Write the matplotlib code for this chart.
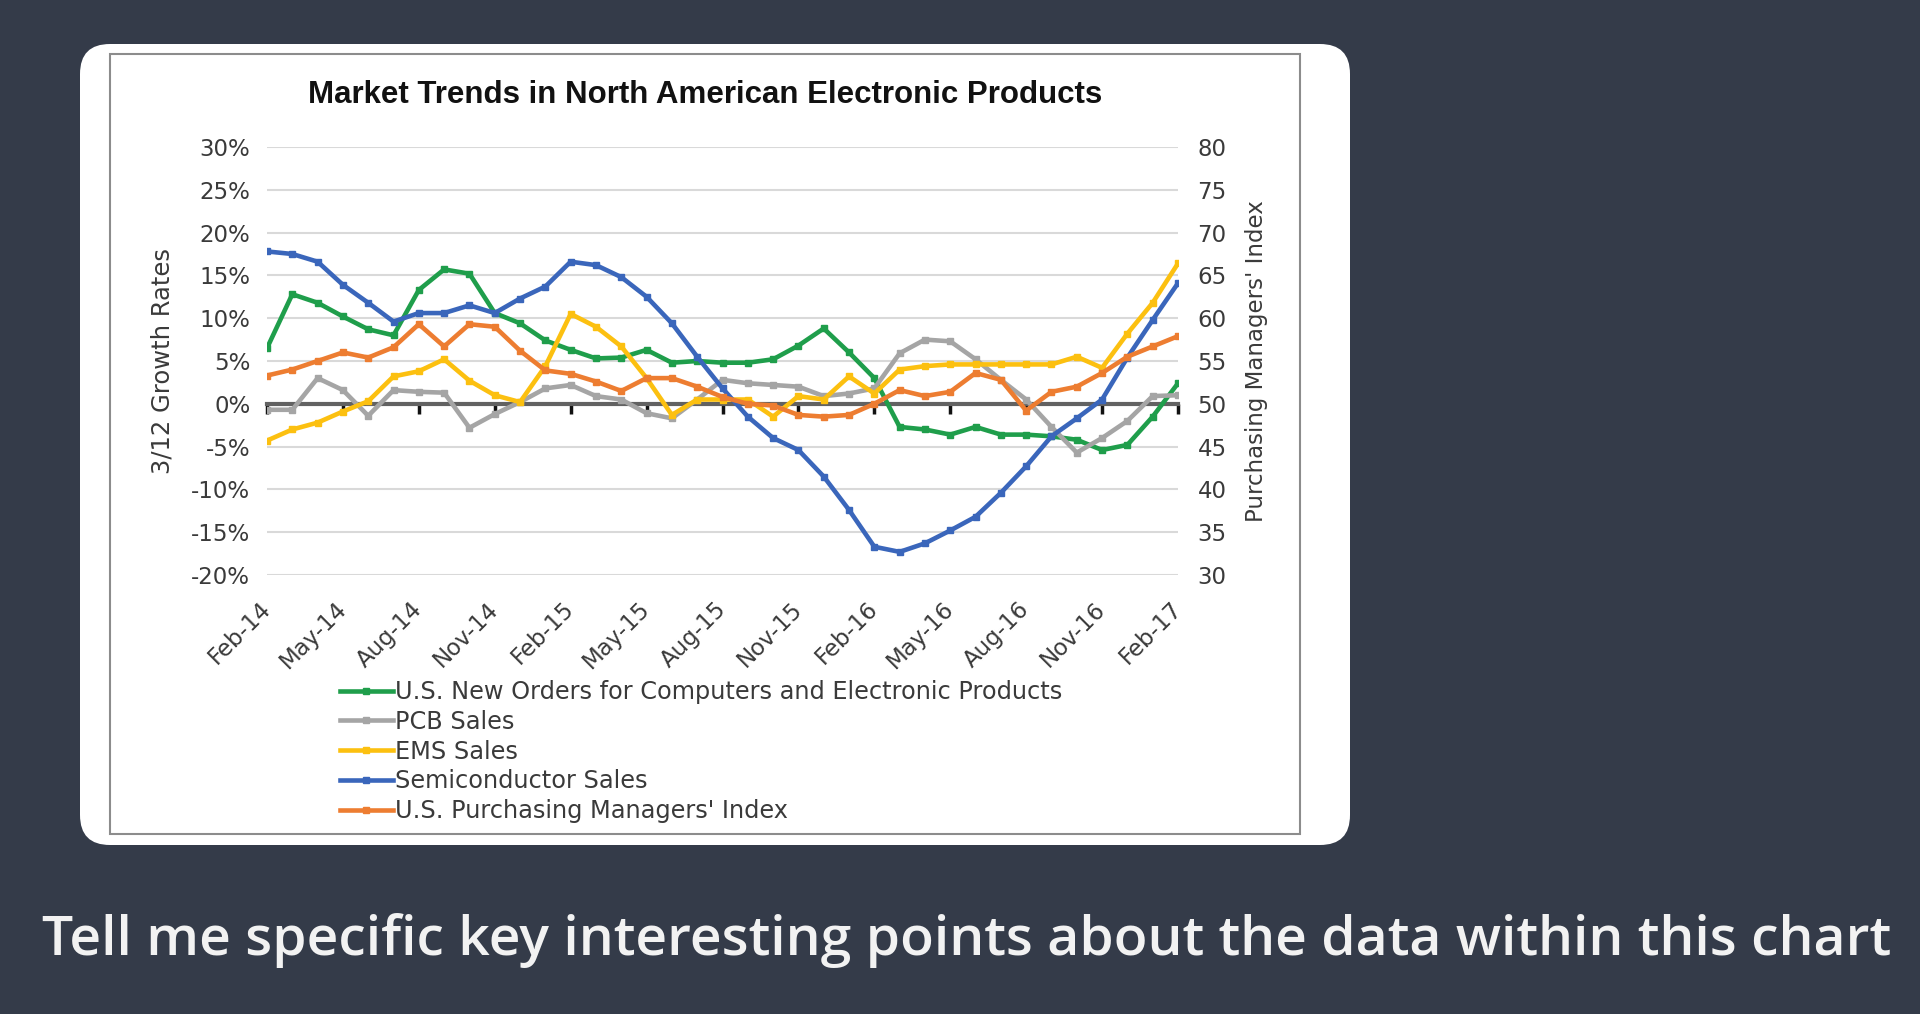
import numpy as np
import pandas as pd
import matplotlib
matplotlib.use('Agg')
import matplotlib.pyplot as plt
from matplotlib.patches import FancyBboxPatch, Rectangle
from matplotlib.ticker import PercentFormatter

plt.rcParams['axes.unicode_minus'] = False
plt.rcParams['font.family'] = ['DejaVu Sans']

# monthly categories Feb-14 .. Feb-17
months = pd.date_range('2014-02-01', periods=37, freq='MS').strftime('%b-%y').tolist()

# 3/12 growth rates, %
new_orders = [6.5, 12.8, 11.8, 10.2, 8.7, 8.0, 13.3, 15.7, 15.2, 10.6,
              9.4, 7.4, 6.3, 5.3, 5.4, 6.3, 4.8, 5.0, 4.8, 4.8,
              5.2, 6.8, 8.8, 6.0, 3.0, -2.7, -3.0, -3.6, -2.7, -3.6,
              -3.6, -3.8, -4.2, -5.4, -4.8, -1.5, 2.4]
pcb = [-0.7, -0.7, 3.0, 1.6, -1.4, 1.6, 1.4, 1.3, -2.8, -1.2,
       0.2, 1.8, 2.2, 0.9, 0.5, -1.1, -1.7, 0.5, 2.8, 2.4,
       2.2, 2.0, 0.9, 1.2, 1.8, 5.9, 7.5, 7.3, 5.2, 2.8,
       0.5, -2.7, -5.7, -4.0, -2.0, 0.9, 1.0]
ems = [-4.3, -3.0, -2.2, -0.9, 0.3, 3.2, 3.8, 5.2, 2.7, 1.0,
       0.2, 4.4, 10.5, 9.0, 6.7, 3.0, -1.3, 0.5, 0.5, 0.5,
       -1.5, 0.9, 0.5, 3.2, 1.2, 4.0, 4.4, 4.6, 4.6, 4.6,
       4.6, 4.6, 5.5, 4.2, 8.2, 11.8, 16.4]
semis = [17.8, 17.5, 16.6, 13.9, 11.8, 9.6, 10.6, 10.6, 11.5, 10.6,
         12.3, 13.7, 16.6, 16.2, 14.8, 12.5, 9.4, 5.5, 1.8, -1.5,
         -4.0, -5.4, -8.5, -12.4, -16.7, -17.3, -16.3, -14.8, -13.2, -10.4,
         -7.3, -3.8, -1.7, 0.5, 5.4, 9.8, 14.1]
# purchasing managers' index (right axis)
pmi = [53.3, 54.0, 55.0, 56.0, 55.4, 56.6, 59.3, 56.7, 59.3, 59.0,
       56.2, 53.9, 53.5, 52.6, 51.5, 53.0, 53.0, 52.0, 50.8, 50.0,
       49.8, 48.7, 48.5, 48.7, 50.0, 51.6, 50.9, 51.4, 53.6, 52.8,
       49.2, 51.4, 52.0, 53.6, 55.5, 56.7, 57.9]

labels = ['U.S. New Orders for Computers and Electronic Products', 'PCB Sales',
          'EMS Sales', 'Semiconductor Sales', "U.S. Purchasing Managers' Index"]
colors = ['#1f9e4b', '#a5a5a5', '#fcc010', '#3a66bb', '#ed7d31']

x = np.arange(len(months))
W, H = 1920, 1014
txt = '#3a3a3a'

fig = plt.figure(figsize=(W / 100, H / 100), dpi=100, facecolor='#343b49')

# background layer in pixel units: white card + thin frame
bg = fig.add_axes([0, 0, 1, 1], zorder=0)
bg.set_xlim(0, W)
bg.set_ylim(H, 0)
bg.axis('off')
bg.add_patch(FancyBboxPatch((80, 44), 1270, 801, boxstyle='round,pad=0,rounding_size=30',
                            fc='white', ec='none'))
bg.add_patch(Rectangle((110, 54), 1190, 780, fill=False, ec='#8c8c8c', lw=1.5))

ax = fig.add_axes([267 / W, 1 - 575 / H, 911 / W, 428 / H], zorder=2)
ax.patch.set_alpha(0)
ax2 = ax.twinx()

handles = []
for vals, col, lab in zip([new_orders, pcb, ems, semis], colors[:4], labels[:4]):
    h, = ax.plot(x, vals, color=col, lw=3.3, marker='s', ms=4.5, label=lab, zorder=3)
    handles.append(h)
h, = ax2.plot(x, pmi, color=colors[4], lw=3.3, marker='s', ms=4.5, label=labels[4])
handles.append(h)

ax.set_xlim(0, 36)
ax.set_ylim(-20, 30)
ax.set_yticks(range(-20, 31, 5))
ax.yaxis.set_major_formatter(PercentFormatter(100, decimals=0))
ax2.set_ylim(30, 80)
ax2.set_yticks(range(30, 81, 5))

ax.grid(axis='y', color='#d9d9d9', lw=1.5)
ax.get_ygridlines()[4].set_visible(False)  # 0% is the category axis
ax.set_axisbelow(True)
for a in (ax, ax2):
    for s in a.spines.values():
        s.set_visible(False)

ax.set_xticks(x[::3])
ax.set_xticklabels(months[::3], rotation=45, ha='right', va='center', rotation_mode='anchor')
ax.tick_params(axis='x', length=0, pad=22, labelsize=16.5, labelcolor=txt)
ax.tick_params(axis='y', length=0, pad=12, labelsize=16.5, labelcolor=txt)
ax2.tick_params(axis='y', length=0, pad=14, labelsize=16.5, labelcolor=txt)

# category axis drawn at 0%
sec = ax.secondary_xaxis(0.4)
sec.set_xticks(x[::3])
sec.tick_params(axis='x', length=7, width=2.5, color='#111111', labelbottom=False, labeltop=False)
sec.spines['bottom'].set_color('#626262')
sec.spines['bottom'].set_linewidth(3)

ax.set_ylabel('3/12 Growth Rates', fontsize=17.5, color=txt)
ax.yaxis.set_label_coords((175 - 267) / 911, 0.5)
ax2.set_ylabel("Purchasing Managers' Index", fontsize=16.5, color=txt, rotation=90)
ax2.yaxis.set_label_coords((1245 - 267) / 911, 0.5)

fig.text(705 / W, 1 - 95 / H, 'Market Trends in North American Electronic Products',
         ha='center', va='center', fontsize=22.5, fontweight='bold',
         family='Liberation Sans', color='#111111')

fig.legend(handles, labels, loc='upper left', bbox_to_anchor=(340 / W, 1 - 680 / H),
           frameon=False, fontsize=17.3, handlelength=2.2, handletextpad=0.1,
           labelspacing=0.24, borderaxespad=0, borderpad=0, labelcolor=txt)

fig.text(967 / W, 1 - 955 / H,
         'Tell me specific key interesting points about the data within this chart',
         ha='center', va='baseline', fontsize=39.8, family='Open Sans',
         fontweight='semibold', color='#f2f2f2')

fig.savefig('out.png', dpi=100, facecolor=fig.get_facecolor())
